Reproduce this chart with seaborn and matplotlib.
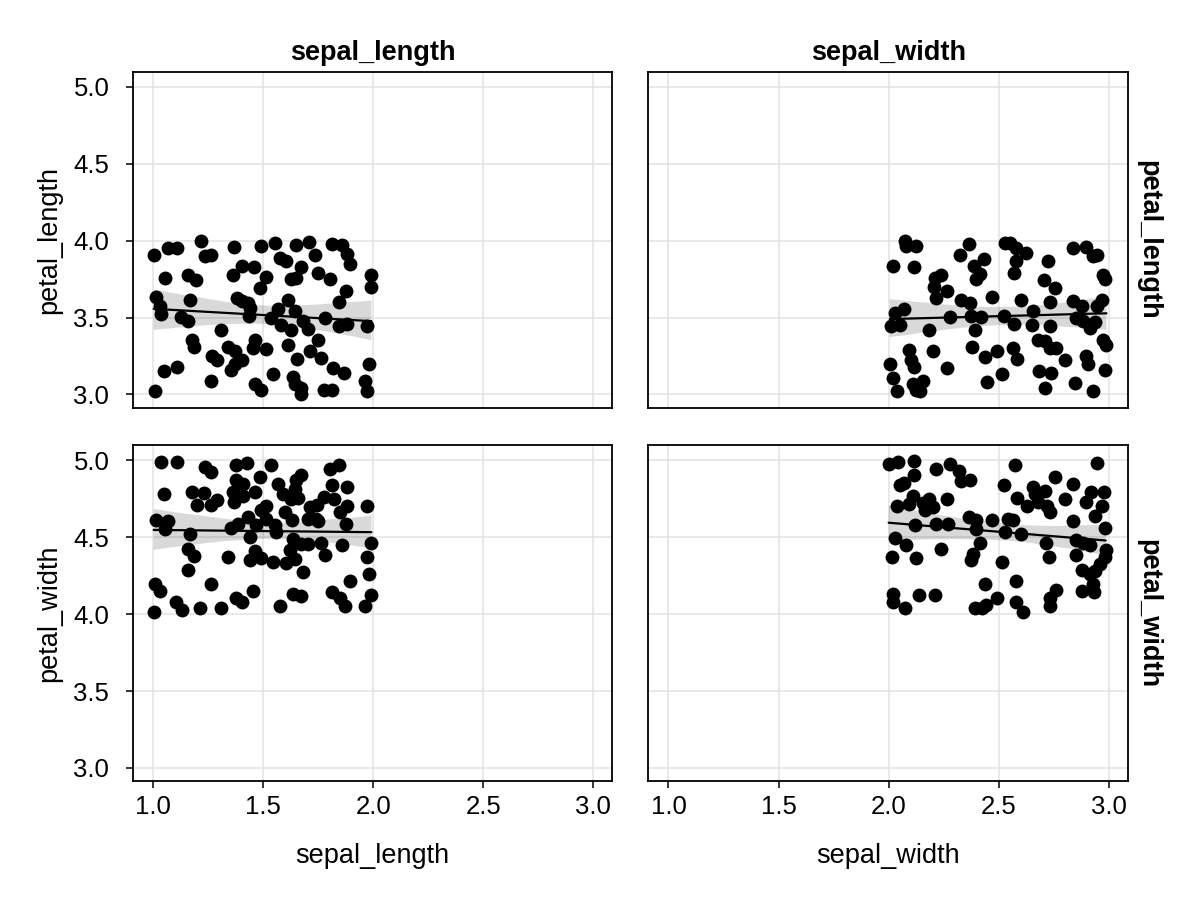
import numpy as np
import pandas as pd
import matplotlib
matplotlib.use("Agg")
import matplotlib.pyplot as plt
import seaborn as sns

# zoom-pixel readings converted to data coordinates below
def cx1(z): return 1 + (z - 55) / 660
def cx2(z): return 2 + (z - 57) / 660
def cyt(z): return 4 - (z - 38) / 462
def cyb(z): return 5 - (z - 35) / 462

tl_pts = [(57,80),(100,60),(127,60),(198,40),(210,85),(228,80),(297,58),(378,53),(420,46),(483,50),(522,43),(590,48),(622,50),(540,80),(635,78),(437,90),(452,100),(645,108),(710,140),(708,178),
(90,150),(160,142),(185,155),(295,140),(322,113),(358,117),(395,148),(376,180),(470,152),(484,150),(498,118),(550,135),(585,153),(633,188),(612,222),
(63,207),(75,235),(80,258),(165,215),(140,268),(160,280),(307,210),(320,218),(340,225),(345,240),(342,265),(460,215),(430,242),(410,270),(440,292),(470,305),(482,250),(505,280),(520,302),(570,270),(612,295),(635,288),(695,295),(258,305),
(173,335),(178,358),(232,385),(248,395),(280,357),(300,370),(355,360),(360,335),(392,363),(322,395),(300,410),(290,425),(460,350),(487,393),(550,335),(527,370),(557,390),(595,422),(628,435),(702,410),
(88,430),(128,417),(228,460),(362,468),(380,488),(415,437),(475,447),(480,470),(500,480),(498,498),(568,487),(590,487),(692,460),(695,490),(60,490)]

bl_pts = [(80,40),(128,40),(210,55),(228,70),(303,48),(337,43),(410,48),(585,62),(612,48),
(88,137),(173,130),(208,133),(187,170),(228,170),(248,153),(295,130),(298,160),(305,95),(325,105),(325,143),(360,130),(377,85),(430,105),(445,135),(470,150),(490,148),(480,120),(483,95),(497,80),(590,108),(638,115),(525,175),(548,170),(568,145),(597,152),(615,190),(635,172),(697,172),
(63,215),(100,218),(90,240),(165,255),(290,238),(310,225),(340,205),(345,265),(365,230),(380,185),(395,172),(395,210),(422,230),(423,250),(450,190),(472,213),(520,210),(545,210),(550,218),(633,225),(475,270),(500,285),(520,285),(557,283),(622,288),(710,282),
(160,300),(178,322),(280,325),(345,335),(360,308),(380,328),(415,340),(455,342),(465,305),(480,330),(505,370),(570,318),(695,325),(703,375),(160,365),
(60,405),(77,428),(230,408),(355,427),(303,450),(322,460),(475,435),(500,442),(590,430),(615,448),(630,472),(645,397),(708,440),(692,472),
(57,492),(125,462),(143,485),(197,478),(258,478),(437,472)]

tr_pts = [(105,40),(110,55),(140,55),(70,113),(132,118),(270,80),(298,48),(342,92),(312,115),(330,138),(320,153),(405,45),(420,45),(440,60),(468,75),(440,100),(432,135),(535,100),(608,60),(648,58),(668,85),(680,80),(700,140),(705,152),(522,155),(555,180),
(195,150),(215,140),(192,178),(198,210),(233,188),(275,215),(300,225),(367,207),(455,215),(540,222),(610,218),(635,235),(695,215),(682,235),
(75,255),(103,242),(65,295),(90,292),(240,268),(305,265),(335,268),(315,305),(403,265),(433,288),(490,250),(487,292),(540,295),(620,270),(640,278),(660,300),(675,282),
(178,305),(118,368),(125,395),(133,418),(190,370),(232,422),(308,357),(345,387),(382,370),(430,360),(442,393),(397,437),(352,462),(505,335),(525,340),(540,362),(560,360),(587,395),(650,385),(655,410),(700,335),(710,352),(705,425),
(60,410),(70,450),(83,490),(130,470),(140,485),(160,460),(150,490),(508,430),(543,435),(527,482),(617,465),(670,490)]

br_pts = [(57,45),(85,40),(133,38),(198,62),(240,47),(268,68),(275,98),(300,93),(435,50),(682,42),(133,80),(90,110),(103,103),
(82,172),(118,165),(130,142),(160,163),(178,150),(165,185),(190,175),(233,150),(403,108),(442,147),(470,172),(490,115),(495,135),(525,128),(505,160),(530,172),(540,190),(555,85),(587,152),(610,105),(648,160),(665,130),(702,130),(697,172),(677,202),(705,238),
(135,228),(198,225),(235,225),(298,205),(320,215),(318,240),(367,215),(415,210),(430,215),(405,250),(455,255),(610,218),
(77,268),(110,290),(67,325),(140,328),(215,300),(330,282),(310,315),(305,335),(397,340),(528,282),(538,325),(620,275),(640,282),(660,288),(620,318),(708,305),(705,325),(690,345),(635,365),(660,375),(675,368),
(70,435),(70,460),(107,478),(148,440),(195,440),(315,480),(337,480),(350,470),(345,408),(382,450),(440,397),(440,462),(458,492),(557,425),(540,450),(542,472),(635,428),(668,408),(672,432)]

sl_vs_pl_x = [round(cx1(a), 3) for a, b in tl_pts]
sl_vs_pl_y = [round(cyt(b), 3) for a, b in tl_pts]
sl_vs_pw_x = [round(cx1(a), 3) for a, b in bl_pts]
sl_vs_pw_y = [round(cyb(b), 3) for a, b in bl_pts]
sw_vs_pl_x = [round(cx2(a), 3) for a, b in tr_pts]
sw_vs_pl_y = [round(cyt(b), 3) for a, b in tr_pts]
sw_vs_pw_x = [round(cx2(a), 3) for a, b in br_pts]
sw_vs_pw_y = [round(cyb(b), 3) for a, b in br_pts]

x_vars = ["sepal_length", "sepal_width"]
y_vars = ["petal_length", "petal_width"]
ticks = [1.0, 1.5, 2.0, 2.5, 3.0]
yticks = [3.0, 3.5, 4.0, 4.5, 5.0]
xticklabels = ["1.0", "1.5", "2.0", "2.5", "3.0"]
yticklabels = ["3.0", "3.5", "4.0", "4.5", "5.0"]

sns.set_theme(style="white")
plt.rcParams['font.family'] = ['Liberation Sans', 'DejaVu Sans']
plt.rcParams['text.color'] = 'black'
plt.rcParams['axes.labelcolor'] = 'black'

fig, axes = plt.subplots(2, 2, figsize=(12, 9), dpi=100)
fig.subplots_adjust(left=0.1108, right=0.94, top=0.92, bottom=0.1322, wspace=0.075, hspace=0.113)

panels = {
    (0, 0): (sl_vs_pl_x, sl_vs_pl_y),
    (1, 0): (sl_vs_pw_x, sl_vs_pw_y),
    (0, 1): (sw_vs_pl_x, sw_vs_pl_y),
    (1, 1): (sw_vs_pw_x, sw_vs_pw_y),
}

for (r, c), (xs, ys) in panels.items():
    ax = axes[r, c]
    df = pd.DataFrame({x_vars[c]: xs, y_vars[r]: ys})
    sns.regplot(data=df, x=x_vars[c], y=y_vars[r], ax=ax, color="black",
                scatter_kws=dict(s=100, linewidths=0, alpha=1, zorder=3),
                line_kws=dict(linewidth=1.6, color="black", zorder=4), ci=95, n_boot=1000, seed=0)
    for coll in ax.collections:
        if coll.__class__.__name__ in ("PolyCollection", "FillBetweenPolyCollection"):
            coll.set_facecolor((0, 0, 0, 0.085))
            coll.set_edgecolor("none")
    ax.set_xlim(0.909, 3.087)
    ax.set_ylim(2.915, 5.097)
    ax.set_xticks(ticks)
    ax.set_yticks(yticks)
    for s in ax.spines.values():
        s.set_visible(True)
        s.set_color("black")
        s.set_linewidth(1.3)
    ax.tick_params(axis="both", direction="out", length=5, width=1.1, color="black",
                   labelcolor="black", labelsize=18.5)
    ax.tick_params(axis="x", bottom=(r == 1), labelbottom=(r == 1), pad=5)
    ax.tick_params(axis="y", left=(c == 0), labelleft=(c == 0), pad=12)
    ax.set_xticklabels(xticklabels if r == 1 else [])
    ax.set_yticklabels(yticklabels if c == 0 else [])
    ax.grid(True, color="#e3e3e3", linewidth=1.1)
    ax.set_axisbelow(True)
    ax.set_xlabel(x_vars[c] if r == 1 else "", fontsize=19.5, labelpad=17)
    ax.set_ylabel(y_vars[r] if c == 0 else "", fontsize=19.5, labelpad=8)
    if r == 0:
        ax.set_title(x_vars[c], fontsize=19.5, fontweight="bold", pad=9)
    if c == 1:
        ax.text(1.043, 0.5, y_vars[r], transform=ax.transAxes, rotation=-90,
                fontsize=19.5, fontweight="bold", va="center", ha="center")

fig.savefig("out.png", dpi=100, facecolor="white")
